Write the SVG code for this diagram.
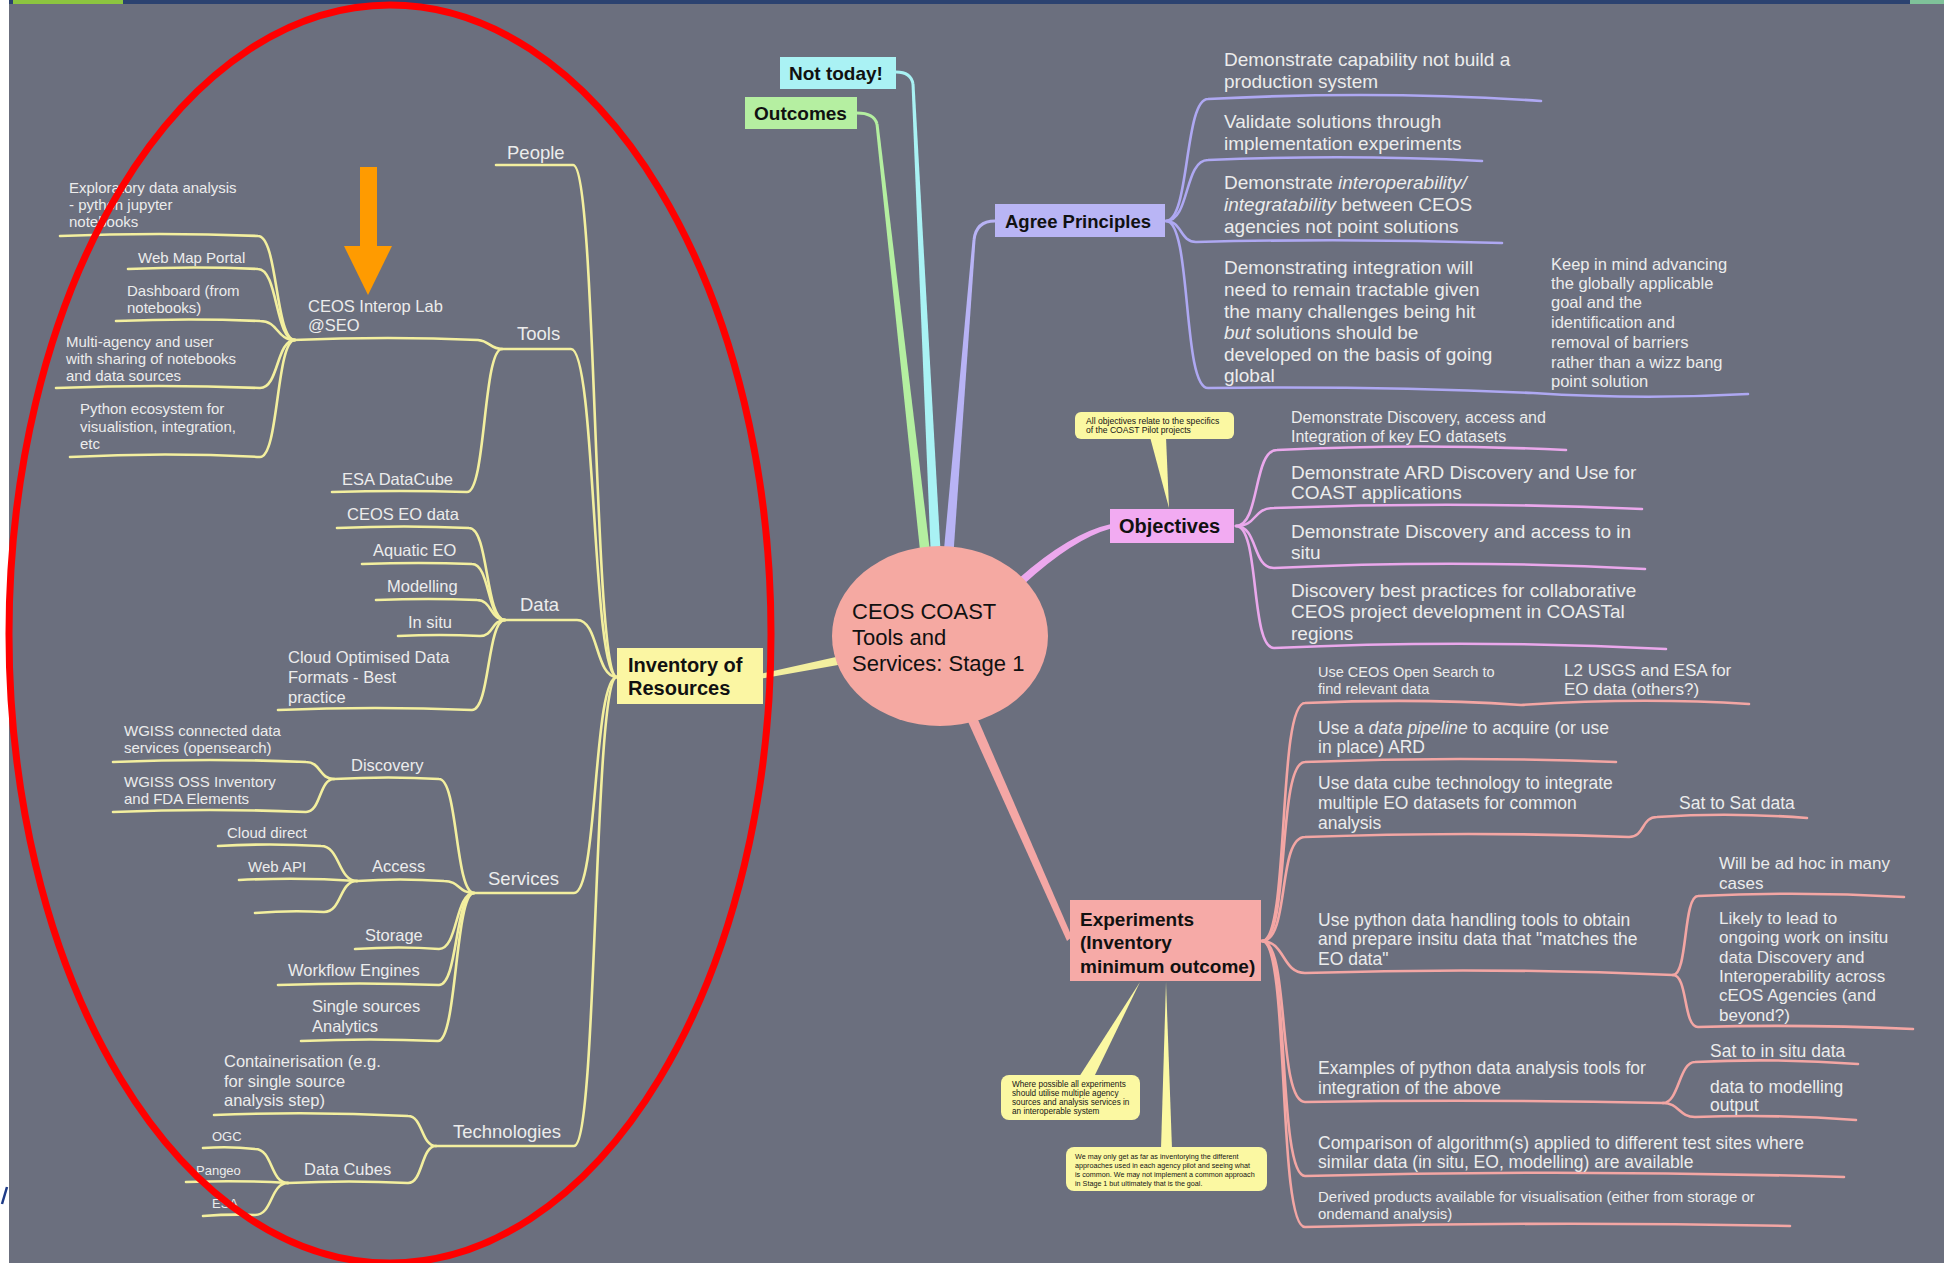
<svg xmlns="http://www.w3.org/2000/svg" width="1944" height="1263" viewBox="0 0 1944 1263">
<defs>
<style>
text{font-family:"Liberation Sans",Arial,sans-serif}
.w{fill:#ececec}
.k{fill:#111}
.b{font-weight:bold}
.i{font-style:italic}
.f13{font-size:13px}.f15{font-size:15px}.f16{font-size:16.5px}.f17{font-size:17.5px}.f18{font-size:18.5px}.f19{font-size:19px}
.y{fill:none;stroke:#f3ef9f;stroke-width:2.6;stroke-linecap:round;stroke-linejoin:round}
.v{fill:none;stroke:#aea8f2;stroke-width:2.6;stroke-linecap:round}
.p{fill:none;stroke:#eaa8ec;stroke-width:2.6;stroke-linecap:round}
.s{fill:none;stroke:#f3a6a4;stroke-width:2.6;stroke-linecap:round}
.call{fill:#fbf8a2}
.ct{fill:#151515}
</style>
</defs>
<rect x="0" y="0" width="1944" height="1263" fill="#6b6f7e"/>
<rect x="0" y="0" width="1944" height="4" fill="#2b4270"/>
<rect x="0" y="0" width="9" height="1263" fill="#ffffff"/>
<rect x="13" y="0" width="110" height="4" fill="#8cc540"/>
<rect x="1910" y="0" width="34" height="4" fill="#7fc29a"/>
<path d="M7 1187 L2 1204" stroke="#1f3c88" stroke-width="2.5" fill="none"/>

<g id="connectors">
<!-- main trunks -->
<path d="M896 72 Q911 72 913 84" fill="none" stroke="#a9f2f4" stroke-width="3"/>
<polygon points="911.5,84 914.5,84 941,560 931,560" fill="#a9f2f4"/>
<path d="M857 113 Q874 113 877 124" fill="none" stroke="#b4efa0" stroke-width="3"/>
<polygon points="875.5,124 878.5,124 931,560 921,560" fill="#b4efa0"/>
<path d="M974 240 Q976 221 995 221" fill="none" stroke="#b8b3f5" stroke-width="3"/>
<polygon points="972.5,240 975.5,240 953,560 943,560" fill="#b8b3f5"/>
<path d="M1018 579 Q1070 533 1111 524 L1111 528.5 Q1073 539 1023 585 Z" fill="#eca8ee"/>
<polygon points="965,715 976,715 1072,937 1067,941" fill="#f4a7a5"/>
<polygon points="762,673.5 836,657 838,665 762,678.5" fill="#f3ef9f"/>

<!-- left: inventory -->
<path class="y" d="M496 165 L573 165 C597 165 593 677 617 677"/>
<path class="y" d="M502 349 L571 349 C596 349 592 677 617 677"/>
<path class="y" d="M505 620 L577 620 C599 620 595 677 617 677"/>
<path class="y" d="M474 893 L574 893 C598 893 593 677 617 677"/>
<path class="y" d="M436 1146 L574 1146 C598 1146 593 677 617 677"/>
<path class="y" d="M293 340 Q390 336 478 340 C490 341 490 349 502 349"/>
<path class="y" d="M332 492 Q400 490 467 492 C486 492 483 349 502 349"/>
<path class="y" d="M60 236 Q160 232 258 236 C278 236 275 340 295 340"/>
<path class="y" d="M128 269 Q195 266 258 269 C278 269 275 340 295 340"/>
<path class="y" d="M116 321 Q190 318 260 321 C279 321 276 340 295 340"/>
<path class="y" d="M56 388 Q160 384 260 388 C279 388 276 340 295 340"/>
<path class="y" d="M70 457 Q165 452 260 457 C279 457 276 340 295 340"/>
<path class="y" d="M337 528 Q405 525 469 528 C489 528 485 620 505 620"/>
<path class="y" d="M362 564 Q420 562 472 564 C490 564 487 620 505 620"/>
<path class="y" d="M376 600 Q430 598 477 600 C492 600 490 620 505 620"/>
<path class="y" d="M398 636 Q440 634 480 636 C494 636 491 620 505 620"/>
<path class="y" d="M278 710 Q375 706 472 710 C490 710 487 620 505 620"/>
<path class="y" d="M334 779 Q390 776 439 779 C458 779 455 893 474 893"/>
<path class="y" d="M357 881 Q400 878 444 881 C460 881 458 893 474 893"/>
<path class="y" d="M355 949 Q400 946 439 949 C458 949 455 893 474 893"/>
<path class="y" d="M278 985 Q360 982 439 985 C458 985 455 893 474 893"/>
<path class="y" d="M301 1041 Q370 1038 438 1041 C457 1041 455 893 474 893"/>
<path class="y" d="M113 762 Q210 758 306 762 C321 762 319 779 334 779"/>
<path class="y" d="M113 812 Q210 808 306 812 C321 812 319 779 334 779"/>
<path class="y" d="M218 846 Q270 843 321 846 C340 846 338 881 357 881"/>
<path class="y" d="M239 880 Q300 877 357 881"/>
<path class="y" d="M255 913 Q290 910 324 912 C342 912 339 881 357 881"/>
<path class="y" d="M214 1115 Q310 1111 408 1116 C423 1116 421 1146 436 1146"/>
<path class="y" d="M288 1183 Q350 1180 408 1183 C423 1183 421 1146 436 1146"/>
<path class="y" d="M203 1148 Q230 1146 255 1149 C273 1149 270 1183 288 1183"/>
<path class="y" d="M186 1182 Q240 1180 288 1183"/>
<path class="y" d="M203 1216 Q230 1214 255 1215 C273 1215 270 1183 288 1183"/>

<!-- agree principles -->
<path class="v" d="M1166 221 C1190 221 1184 99 1208 99 Q1380 90 1541 101"/>
<path class="v" d="M1166 221 C1190 221 1184 160 1208 160 Q1350 154 1482 161"/>
<path class="v" d="M1166 221 C1182 221 1180 242 1196 242 Q1350 238 1502 243"/>
<path class="v" d="M1166 221 C1192 221 1182 388 1208 388 Q1380 386 1533 393 Q1640 400 1748 394"/>

<!-- objectives -->
<path class="p" d="M1236 526 C1260 526 1253 450 1277 450 Q1420 443 1566 450"/>
<path class="p" d="M1236 526 C1258 526 1252 508 1274 508 Q1460 501 1642 509"/>
<path class="p" d="M1236 526 C1258 526 1252 568 1274 568 Q1460 559 1645 569"/>
<path class="p" d="M1236 526 C1260 526 1250 648 1274 648 Q1470 639 1666 649"/>

<!-- experiments -->
<path class="s" d="M1262 941 C1290 941 1277 703 1305 703 Q1420 698 1521 705 Q1640 697 1749 704"/>
<path class="s" d="M1262 941 C1290 941 1277 762 1305 762 Q1460 756 1616 762"/>
<path class="s" d="M1262 941 C1290 941 1277 837 1305 837 Q1470 831 1629 837 C1645 837 1641 817 1657 817 Q1730 812 1807 818"/>
<path class="s" d="M1262 941 C1285 941 1282 973 1305 973 Q1490 967 1673 975"/>
<path class="s" d="M1673 975 C1688 975 1683 896 1698 896 Q1800 891 1904 897"/>
<path class="s" d="M1673 975 C1688 975 1683 1027 1698 1027 Q1800 1024 1913 1029"/>
<path class="s" d="M1262 941 C1290 941 1277 1102 1305 1102 Q1480 1099 1663 1103"/>
<path class="s" d="M1663 1103 C1679 1103 1679 1062 1695 1062 Q1775 1058 1858 1064"/>
<path class="s" d="M1663 1103 C1679 1103 1679 1117 1695 1117 Q1775 1114 1856 1120"/>
<path class="s" d="M1262 941 C1290 941 1277 1176 1305 1176 Q1570 1169 1844 1177"/>
<path class="s" d="M1262 941 C1290 941 1277 1227 1305 1227 Q1550 1221 1790 1226"/>
</g>

<g id="center">
<ellipse cx="940" cy="636" rx="108" ry="90" fill="#f5a9a2"/>
<text class="k" font-size="22"><tspan x="852" y="619">CEOS COAST</tspan><tspan x="852" y="645">Tools and</tspan><tspan x="852" y="671">Services: Stage 1</tspan></text>
</g>

<g id="inventory">
<rect x="617" y="648" width="146" height="56" fill="#fbf6a3"/>
<text class="k b" font-size="20"><tspan x="628" y="672">Inventory of</tspan><tspan x="628" y="695">Resources</tspan></text>
</g>
<g id="not-today">
<rect x="780" y="57" width="116" height="32" fill="#aaf2f4"/>
<text class="k b f19" x="789" y="80">Not today!</text>
</g>
<g id="outcomes">
<rect x="745" y="97" width="112" height="32" fill="#b5efa1"/>
<text class="k b f19" x="754" y="120">Outcomes</text>
</g>
<g id="agree">
<rect x="995" y="204" width="170" height="33" fill="#b9b5f5"/>
<text class="k b f18" x="1005" y="228">Agree Principles</text>
</g>
<g id="objectives">
<rect x="1110" y="509" width="124" height="34" fill="#f2abf2"/>
<text class="k b" font-size="20" x="1119" y="533">Objectives</text>
</g>
<g id="experiments">
<rect x="1070" y="900" width="191" height="81" fill="#f6aaa7"/>
<text class="k b f19"><tspan x="1080" y="926">Experiments</tspan><tspan x="1080" y="949">(Inventory</tspan><tspan x="1080" y="973">minimum outcome)</tspan></text>
</g>

<!-- left texts -->
<g id="people"><text class="w f18" x="507" y="159">People</text></g>
<g id="tools"><text class="w f18" x="517" y="340">Tools</text></g>
<g id="interop"><text class="w f16"><tspan x="308" y="312">CEOS Interop Lab</tspan><tspan x="308" y="331">@SEO</tspan></text></g>
<g id="exploratory"><text class="w f15"><tspan x="69" y="193">Exploratory data analysis</tspan><tspan x="69" y="210">- python jupyter</tspan><tspan x="69" y="227">notebooks</tspan></text></g>
<g id="webmap"><text class="w f15" x="138" y="263">Web Map Portal</text></g>
<g id="dashboard"><text class="w f15"><tspan x="127" y="296">Dashboard (from</tspan><tspan x="127" y="313">notebooks)</tspan></text></g>
<g id="multi"><text class="w f15"><tspan x="66" y="347">Multi-agency and user</tspan><tspan x="66" y="364">with sharing of notebooks</tspan><tspan x="66" y="381">and data sources</tspan></text></g>
<g id="python"><text class="w f15"><tspan x="80" y="414">Python ecosystem for</tspan><tspan x="80" y="432">visualistion, integration,</tspan><tspan x="80" y="449">etc</tspan></text></g>
<g id="esadc"><text class="w f16" x="342" y="485">ESA DataCube</text></g>
<g id="data"><text class="w f18" x="520" y="611">Data</text></g>
<g id="ceoseo"><text class="w f16" x="347" y="520">CEOS EO data</text></g>
<g id="aquatic"><text class="w f16" x="373" y="556">Aquatic EO</text></g>
<g id="modelling"><text class="w f16" x="387" y="592">Modelling</text></g>
<g id="insitu"><text class="w f16" x="408" y="628">In situ</text></g>
<g id="cloudopt"><text class="w f16"><tspan x="288" y="663">Cloud Optimised Data</tspan><tspan x="288" y="683">Formats - Best</tspan><tspan x="288" y="703">practice</tspan></text></g>
<g id="services"><text class="w f18" x="488" y="885">Services</text></g>
<g id="discovery"><text class="w f16" x="351" y="771">Discovery</text></g>
<g id="wgiss1"><text class="w f15"><tspan x="124" y="736">WGISS connected data</tspan><tspan x="124" y="753">services (opensearch)</tspan></text></g>
<g id="wgiss2"><text class="w f15"><tspan x="124" y="787">WGISS OSS Inventory</tspan><tspan x="124" y="804">and FDA Elements</tspan></text></g>
<g id="access"><text class="w f16" x="372" y="872">Access</text></g>
<g id="clouddirect"><text class="w f15" x="227" y="838">Cloud direct</text></g>
<g id="webapi"><text class="w f15" x="248" y="872">Web API</text></g>
<g id="storage"><text class="w f16" x="365" y="941">Storage</text></g>
<g id="workflow"><text class="w f16" x="288" y="976">Workflow Engines</text></g>
<g id="single"><text class="w f16"><tspan x="312" y="1012">Single sources</tspan><tspan x="312" y="1032">Analytics</tspan></text></g>
<g id="technologies"><text class="w f18" x="453" y="1138">Technologies</text></g>
<g id="container"><text class="w f16"><tspan x="224" y="1067">Containerisation (e.g.</tspan><tspan x="224" y="1087">for single source</tspan><tspan x="224" y="1106">analysis step)</tspan></text></g>
<g id="datacubes"><text class="w f16" x="304" y="1175">Data Cubes</text></g>
<g id="ogc"><text class="w f13" x="212" y="1141">OGC</text></g>
<g id="pangeo"><text class="w f13" x="196" y="1175">Pangeo</text></g>
<g id="esa"><text class="w f13" x="212" y="1208">ESA</text></g>

<!-- agree texts -->
<g id="a1"><text class="w f19"><tspan x="1224" y="66">Demonstrate capability not build a</tspan><tspan x="1224" y="88">production system</tspan></text></g>
<g id="a2"><text class="w f19"><tspan x="1224" y="128">Validate solutions through</tspan><tspan x="1224" y="150">implementation experiments</tspan></text></g>
<g id="a3"><text class="w f19"><tspan x="1224" y="189">Demonstrate <tspan class="i">interoperability/</tspan></tspan><tspan x="1224" y="211"><tspan class="i">integratability</tspan> between CEOS</tspan><tspan x="1224" y="233">agencies not point solutions</tspan></text></g>
<g id="a4"><text class="w f19"><tspan x="1224" y="274">Demonstrating integration will</tspan><tspan x="1224" y="296">need to remain tractable given</tspan><tspan x="1224" y="318">the many challenges being hit</tspan><tspan x="1224" y="339"><tspan class="i">but</tspan> solutions should be</tspan><tspan x="1224" y="361">developed on the basis of going</tspan><tspan x="1224" y="382">global</tspan></text></g>
<g id="a5"><text class="w f16"><tspan x="1551" y="270">Keep in mind advancing</tspan><tspan x="1551" y="289">the globally applicable</tspan><tspan x="1551" y="308">goal and the</tspan><tspan x="1551" y="328">identification and</tspan><tspan x="1551" y="348">removal of barriers</tspan><tspan x="1551" y="368">rather than a wizz bang</tspan><tspan x="1551" y="387">point solution</tspan></text></g>

<!-- objective texts -->
<g id="o1"><text class="w" font-size="16"><tspan x="1291" y="423">Demonstrate Discovery, access and</tspan><tspan x="1291" y="442">Integration of key EO datasets</tspan></text></g>
<g id="o2"><text class="w f19"><tspan x="1291" y="479">Demonstrate ARD Discovery and Use for</tspan><tspan x="1291" y="499">COAST applications</tspan></text></g>
<g id="o3"><text class="w f19"><tspan x="1291" y="538">Demonstrate Discovery and access to in</tspan><tspan x="1291" y="559">situ</tspan></text></g>
<g id="o4"><text class="w f19"><tspan x="1291" y="597">Discovery best practices for collaborative</tspan><tspan x="1291" y="618">CEOS project development in COASTal</tspan><tspan x="1291" y="640">regions</tspan></text></g>

<!-- experiment texts -->
<g id="e1"><text class="w" font-size="14.5"><tspan x="1318" y="677">Use CEOS Open Search to</tspan><tspan x="1318" y="694">find relevant data</tspan></text></g>
<g id="e1a"><text class="w" font-size="17"><tspan x="1564" y="676">L2 USGS and ESA for</tspan><tspan x="1564" y="695">EO data (others?)</tspan></text></g>
<g id="e2"><text class="w f17"><tspan x="1318" y="734">Use a <tspan class="i">data pipeline</tspan> to acquire (or use</tspan><tspan x="1318" y="753">in place) ARD</tspan></text></g>
<g id="e3"><text class="w f17"><tspan x="1318" y="789">Use data cube technology to integrate</tspan><tspan x="1318" y="809">multiple EO datasets for common</tspan><tspan x="1318" y="829">analysis</tspan></text></g>
<g id="e3a"><text class="w f17" x="1679" y="809">Sat to Sat data</text></g>
<g id="e4"><text class="w f17"><tspan x="1318" y="926">Use python data handling tools to obtain</tspan><tspan x="1318" y="945">and prepare insitu data that "matches the</tspan><tspan x="1318" y="965">EO data"</tspan></text></g>
<g id="e4a"><text class="w" font-size="17"><tspan x="1719" y="869">Will be ad hoc in many</tspan><tspan x="1719" y="889">cases</tspan></text></g>
<g id="e4b"><text class="w" font-size="17"><tspan x="1719" y="924">Likely to lead to</tspan><tspan x="1719" y="943">ongoing work on insitu</tspan><tspan x="1719" y="963">data Discovery and</tspan><tspan x="1719" y="982">Interoperability across</tspan><tspan x="1719" y="1001">cEOS Agencies (and</tspan><tspan x="1719" y="1021">beyond?)</tspan></text></g>
<g id="e5"><text class="w f17"><tspan x="1318" y="1074">Examples of python data analysis tools for</tspan><tspan x="1318" y="1094">integration of the above</tspan></text></g>
<g id="e5a"><text class="w f17" x="1710" y="1057">Sat to in situ data</text></g>
<g id="e5b"><text class="w f17"><tspan x="1710" y="1093">data to modelling</tspan><tspan x="1710" y="1111">output</tspan></text></g>
<g id="e6"><text class="w f17"><tspan x="1318" y="1149">Comparison of algorithm(s) applied to different test sites where</tspan><tspan x="1318" y="1168">similar data (in situ, EO, modelling) are available</tspan></text></g>
<g id="e7"><text class="w f15"><tspan x="1318" y="1202">Derived products available for visualisation (either from storage or</tspan><tspan x="1318" y="1219">ondemand analysis)</tspan></text></g>

<!-- callouts -->
<g id="callout-objectives">
<polygon class="call" points="1150,437 1166,437 1169,508"/>
<rect class="call" x="1075" y="412" width="159" height="27" rx="6"/>
<text class="ct" font-size="8.6"><tspan x="1086" y="424">All objectives relate to the specifics</tspan><tspan x="1086" y="433">of the COAST Pilot projects</tspan></text>
</g>
<g id="callout-experiments-1">
<polygon class="call" points="1079,1077 1094,1077 1140,982"/>
<rect class="call" x="1001" y="1075" width="139" height="45" rx="8"/>
<text class="ct" font-size="8.2"><tspan x="1012" y="1087">Where possible all experiments</tspan><tspan x="1012" y="1096">should utilise multiple agency</tspan><tspan x="1012" y="1105">sources and analysis services in</tspan><tspan x="1012" y="1114">an interoperable system</tspan></text>
</g>
<g id="callout-experiments-2">
<polygon class="call" points="1161,1149 1172,1149 1166,982"/>
<rect class="call" x="1066" y="1147" width="201" height="44" rx="8"/>
<text class="ct" font-size="7.2"><tspan x="1075" y="1159">We may only get as far as inventorying the different</tspan><tspan x="1075" y="1168">approaches used in each agency pilot and seeing what</tspan><tspan x="1075" y="1177">is common. We may not implement a common approach</tspan><tspan x="1075" y="1186">in Stage 1 but ultimately that is the goal.</tspan></text>
</g>

<!-- annotations -->
<g id="arrow">
<rect x="360" y="167" width="17" height="80" fill="#ff9b00"/>
<polygon points="344,246 392,246 368,295" fill="#ff9b00"/>
</g>
<ellipse id="highlight" cx="390" cy="634" rx="381" ry="629" fill="none" stroke="#ff0000" stroke-width="7"/>
</svg>
